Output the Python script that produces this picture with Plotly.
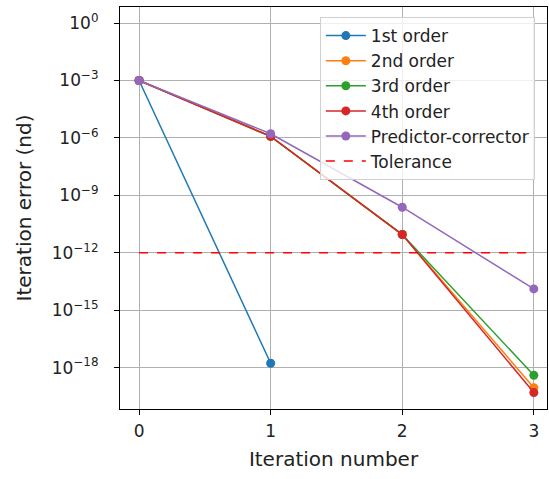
import plotly.graph_objects as go

# Iteration convergence data
iterations = [0, 1, 2, 3]
err_1st = [1e-3, 1.7e-18]
err_2nd = [1e-3, 1.2e-6, 9e-12, 9e-20]
err_3rd = [1e-3, 1.2e-6, 9e-12, 4e-19]
err_4th = [1e-3, 1.2e-6, 9e-12, 5e-20]
err_pc = [1e-3, 1.65e-6, 2.4e-10, 1.3e-14]
tolerance = 1e-12

y_tick_exps = [0, -3, -6, -9, -12, -15, -18]
x_ticks = [0, 1, 2, 3]

colors = ["#1f77b4", "#ff7f0e", "#2ca02c", "#d62728", "#9467bd"]
series = [
    ("1st order", iterations[:len(err_1st)], err_1st),
    ("2nd order", iterations, err_2nd),
    ("3rd order", iterations, err_3rd),
    ("4th order", iterations, err_4th),
    ("Predictor-corrector", iterations, err_pc),
]

fig = go.Figure()
for (name, xs, ys), c in zip(series, colors):
    fig.add_trace(go.Scatter(
        x=xs, y=ys, name=name, mode="lines+markers",
        line=dict(color=c, width=1.5),
        marker=dict(color=c, size=9),
    ))

fig.add_trace(go.Scatter(
    x=[iterations[0], iterations[-1]], y=[tolerance, tolerance],
    name="Tolerance", mode="lines",
    line=dict(color="red", width=1.5, dash="dash"),
))

font = "DejaVu Sans"
axis_common = dict(
    showline=True, linecolor="black", linewidth=1.2, mirror=True,
    ticks="outside", ticklen=5, tickcolor="black", tickwidth=1,
    showgrid=True, gridcolor="#b0b0b0", gridwidth=1,
    zeroline=False,
    tickfont=dict(family=font, size=17, color="#222"),
)

fig.update_layout(
    width=549, height=479,
    margin=dict(l=120, r=2, t=7, b=70),
    paper_bgcolor="white", plot_bgcolor="white",
    font=dict(family=font, color="#222"),
    showlegend=True,
    legend=dict(
        x=0.468, y=0.975, xanchor="left", yanchor="top",
        bgcolor="rgba(255,255,255,0.8)", bordercolor="#d0d0d0", borderwidth=1,
        font=dict(family=font, size=17, color="#222"),
        itemwidth=40,
    ),
    xaxis=dict(
        range=[-0.145, 3.1],
        tickvals=x_ticks, ticktext=[str(v) for v in x_ticks],
        ticklabelstandoff=1,
        title=dict(text="Iteration number", font=dict(family=font, size=20), standoff=12),
        **axis_common,
    ),
    yaxis=dict(
        type="log", range=[-20.16, 0.84],
        tickvals=[10.0 ** e for e in y_tick_exps],
        ticktext=["10<sup>%s</sup>" % (str(e).replace("-", "\u2212")) for e in y_tick_exps],
        ticklabelstandoff=12,
        title=dict(text="Iteration error (nd)", font=dict(family=font, size=20), standoff=14),
        **axis_common,
    ),
)

fig.write_html("out.html")
